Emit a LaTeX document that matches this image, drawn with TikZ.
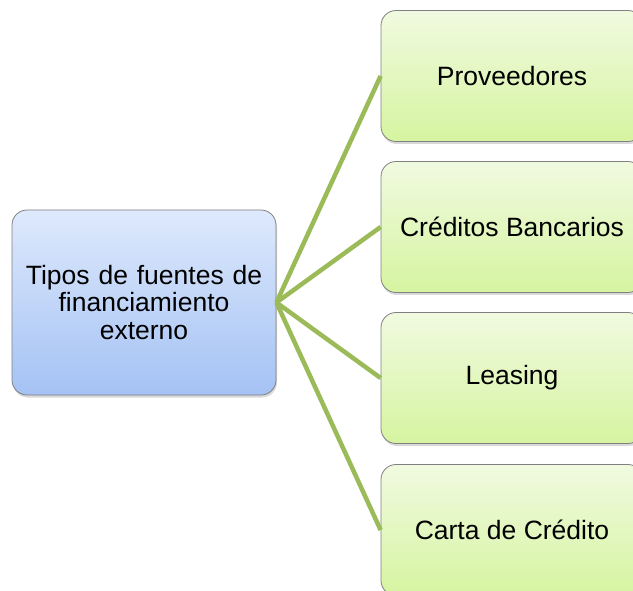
\documentclass[tikz,border=0pt]{standalone}
\usepackage{fontspec}
\setmainfont{Liberation Sans}
\usepackage{xcolor}
\usetikzlibrary{shadows}
\definecolor{linegreen}{RGB}{155,187,89}
\definecolor{bluetop}{RGB}{222,233,252}
\definecolor{bluebot}{RGB}{164,194,244}
\definecolor{greentop}{RGB}{240,250,224}
\definecolor{greenbot}{RGB}{214,244,160}
\tikzset{every picture/.style={x=1pt,y=-1pt},
  box/.style={rectangle, rounded corners=15pt, draw=black!50, thick, inner sep=0pt,
    align=center, font=\fontsize{26.5}{27.5}\selectfont,
    drop shadow={opacity=0.3, shadow xshift=1pt, shadow yshift=-2.5pt}},
  hub/.style={box, top color=bluetop, bottom color=bluebot, minimum width=264pt, minimum height=185pt, text width=250pt},
  leaf/.style={box, top color=greentop, bottom color=greenbot, minimum width=262pt, minimum height=131pt}}

\begin{document}
\begin{tikzpicture}
        \useasboundingbox (0,0) rectangle (633,591);
        \clip (0,0) rectangle (633,591);
        \node[hub] (tipos) at (144, 302.5) {Tipos de fuentes de\\financiamiento\\externo};
        \node[leaf] (n1) at (512, 76) {Proveedores};
        \node[leaf] (n2) at (512, 227) {Créditos Bancarios};
        \node[leaf] (n3) at (512, 378) {Leasing};
        \node[leaf] (n4) at (512, 530) {Carta de Crédito};

        \foreach \to in {n1, n2, n3, n4}
        \draw[linegreen, line width=4.5pt] (tipos.east) -- (\to.west);
      \end{tikzpicture}
\end{document}
